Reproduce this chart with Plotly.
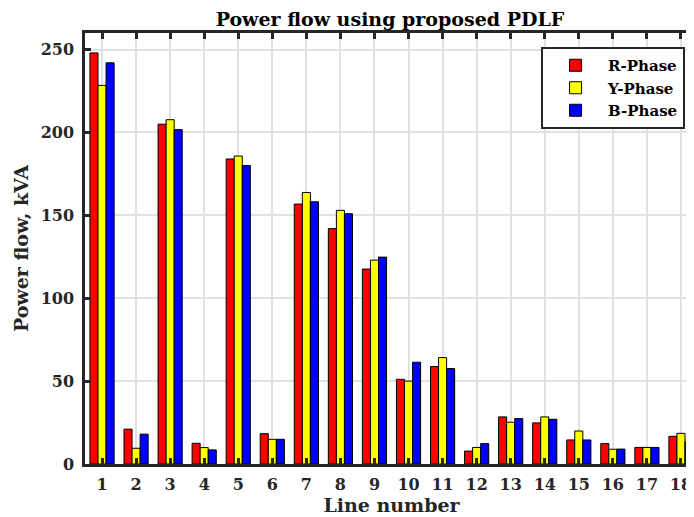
import plotly.graph_objects as go

lines = list(range(1, 19))
r_phase = [248, 21, 205, 12.5, 184, 18.3, 156.8, 142, 117.6, 51.1, 58.8, 7.8, 28.4, 24.8, 14.5, 12.3, 10, 16.7]
y_phase = [228.4, 9.5, 207.7, 9.9, 185.8, 14.9, 163.8, 153, 123, 50, 64.2, 10, 25.2, 28.4, 19.9, 8.9, 10, 18.5]
b_phase = [242, 18, 201.7, 8.5, 180, 14.9, 158.2, 151, 124.8, 61.4, 57.6, 12.3, 27.4, 27, 14.5, 9, 10, 13.3]
y_ticks = [0, 50, 100, 150, 200, 250]

FONT = "DejaVu Serif"
DARK = "#262626"

fig = go.Figure()
for name, vals, color in [("R-Phase", r_phase, "#ff0000"),
                          ("Y-Phase", y_phase, "#ffff00"),
                          ("B-Phase", b_phase, "#0000ff")]:
    fig.add_trace(go.Bar(x=lines, y=vals, name=f"<b>{name}</b>",
                         marker=dict(color=color, line=dict(color="black", width=1))))

fig.update_layout(
    width=694, height=517,
    margin=dict(l=77, r=4, t=25, b=61, autoexpand=False),
    paper_bgcolor="white", plot_bgcolor="white",
    barmode="group", bargap=0.29, bargroupgap=0,
    font=dict(family=FONT, color=DARK),
    title=dict(text="<b>Power flow using proposed PDLF</b>", x=0.5504, xanchor="center",
               y=0.979, yanchor="middle", yref="container",
               font=dict(family=FONT, size=19, color="black")),
    legend=dict(x=0.744, y=0.9675, xanchor="left", yanchor="top",
                bgcolor="white", bordercolor=DARK, borderwidth=2,
                font=dict(family=FONT, size=15, color="black"),
                itemwidth=55, tracegroupgap=0),
    showlegend=True,
)
fig.update_xaxes(range=[0.5, 18.5], tickmode="array", tickvals=lines,
                 ticktext=[f"<b>{v}</b>" for v in lines],
                 tickfont=dict(family=FONT, size=16, color=DARK), ticklabelstandoff=4,
                 showline=True, linecolor=DARK, linewidth=2.5, mirror="allticks",
                 ticks="inside", ticklen=6, tickwidth=2.5, tickcolor=DARK,
                 showgrid=True, gridcolor="#e1e1e1", gridwidth=2, automargin=False,
                 title=dict(text="<b>Line number</b>", font=dict(family=FONT, size=19, color=DARK),
                            standoff=5))
fig.update_yaxes(range=[0, 260], tickmode="array", tickvals=y_ticks,
                 ticktext=[f"<b>{v}</b>" for v in y_ticks],
                 tickfont=dict(family=FONT, size=16, color=DARK), ticklabelstandoff=5,
                 showline=True, linecolor=DARK, linewidth=2.5, mirror="allticks",
                 ticks="inside", ticklen=6, tickwidth=2.5, tickcolor=DARK,
                 showgrid=True, gridcolor="#e1e1e1", gridwidth=2, zeroline=False, automargin=False,
                 title=dict(text="<b>Power flow, kVA</b>", font=dict(family=FONT, size=19, color=DARK),
                            standoff=7))

fig.write_html("out.html")
